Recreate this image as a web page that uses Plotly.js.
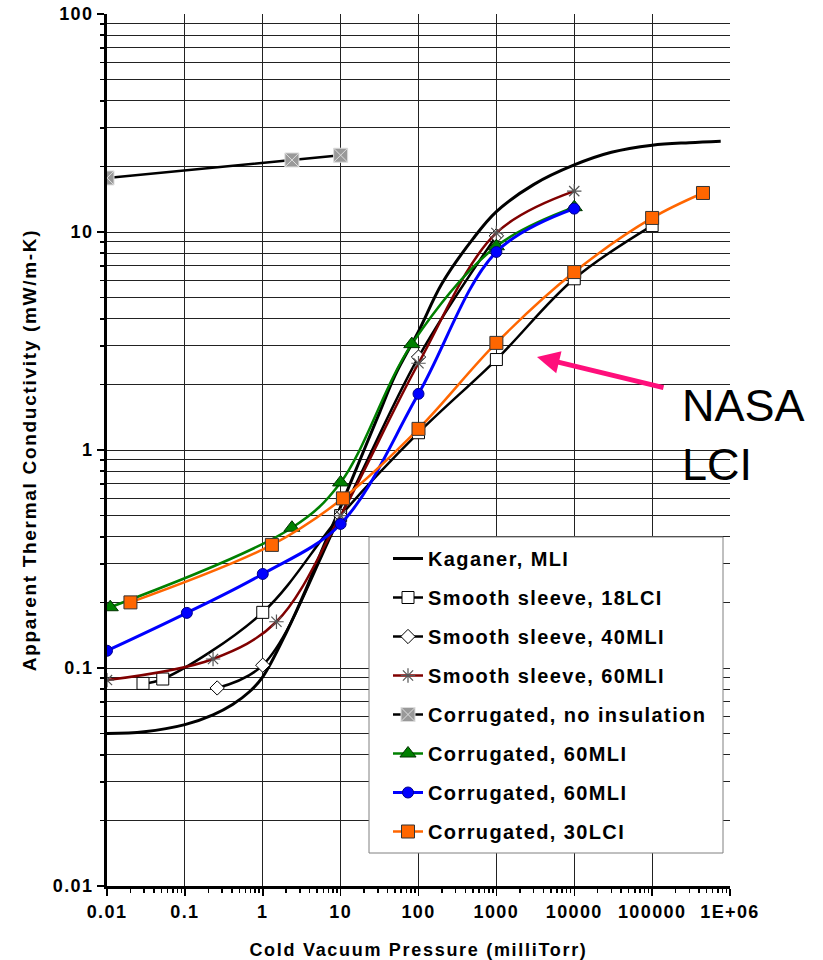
<!DOCTYPE html>
<html>
<head>
<meta charset="utf-8">
<script src="https://cdn.plot.ly/plotly-3.0.1.min.js"></script>
<style>
  html, body { margin: 0; padding: 0; background: #fff; }
  #chart { width: 823px; height: 960px; }
  .legendtext { letter-spacing: 1.4px; }
  .xtick text, .ytick text { letter-spacing: 1.4px; }
  .xtitle, .ytitle { letter-spacing: 1.7px; }
</style>
</head>
<body>
<div id="chart"></div>
<script>
// ---- Data ----
const seriesNames = [
  "Kaganer, MLI",
  "Smooth sleeve, 18LCI",
  "Smooth sleeve, 40MLI",
  "Smooth sleeve, 60MLI",
  "Corrugated, no insulation",
  "Corrugated, 60MLI",
  "Corrugated, 60MLI",
  "Corrugated, 30LCI"
];

const kaganerX = [0.01, 0.03, 0.1, 0.23, 0.41, 0.68, 1, 2, 3.6, 6, 10, 20, 32, 50, 100, 200, 500, 1000, 3000, 10000, 30000, 100000, 300000, 760000];
const kaganerY = [0.050, 0.051, 0.055, 0.061, 0.068, 0.078, 0.091, 0.145, 0.23, 0.36, 0.55, 1.0, 1.5, 2.2, 3.5, 5.8, 9.3, 12.4, 16.5, 20.3, 23.2, 25.0, 25.7, 26.1];

const smooth18X = [0.029, 0.052, 1, 10, 100, 1000, 10000, 100000];
const smooth18Y = [0.085, 0.089, 0.18, 0.50, 1.2, 2.6, 6.1, 10.7];

const smooth40X = [0.26, 1, 10, 100, 1000];
const smooth40Y = [0.081, 0.103, 0.50, 2.67, 9.6];

const smooth60X = [0.01, 0.23, 1.5, 10, 100, 1000, 10000];
const smooth60Y = [0.088, 0.11, 0.163, 0.50, 2.5, 9.9, 15.4];

const corrNoneX = [0.01, 2.37, 10];
const corrNoneY = [17.7, 21.4, 22.5];

const corr60gX = [0.011, 2.37, 10, 82, 1000, 10000];
const corr60gY = [0.19, 0.44, 0.71, 3.06, 8.6, 13.0];

const corr60bX = [0.01, 0.106, 1, 10, 100, 1000, 10000];
const corr60bY = [0.12, 0.179, 0.27, 0.458, 1.81, 8.1, 12.8];

const corr30X = [0.02, 1.31, 10.7, 100, 1000, 10000, 100000, 450000];
const corr30Y = [0.20, 0.367, 0.60, 1.25, 3.1, 6.55, 11.6, 15.1];

const xTickVals = [0.01, 0.1, 1, 10, 100, 1000, 10000, 100000, 1000000];
const xTickText = ["0.01", "0.1", "1", "10", "100", "1000", "10000", "100000", "1E+06"];
const yTickVals = [0.01, 0.1, 1, 10, 100];
const yTickText = ["0.01", "0.1", "1", "10", "100"];

// ---- Build ----
const FONT = "Liberation Sans, Arial, sans-serif";

function minorVals(lo, hi) {
  const v = [];
  for (let e = lo; e < hi; e++) {
    for (let k = 2; k <= 9; k++) v.push(k * Math.pow(10, e));
  }
  return v;
}

function tr(i, x, y, lineColor, lineWidth, marker) {
  const t = {
    x: x, y: y, name: seriesNames[i], legendgroup: "g" + i,
    type: "scatter",
    mode: marker ? "lines+markers" : "lines",
    line: { color: lineColor, width: lineWidth, shape: "spline", smoothing: 1 }
  };
  if (marker) t.marker = marker;
  return t;
}

const traces = [
  tr(0, kaganerX, kaganerY, "#000000", 3, null),
  tr(1, smooth18X, smooth18Y, "#000000", 2.5,
     { symbol: "square", size: 12, color: "#ffffff", line: { color: "#000000", width: 1 } }),
  tr(2, smooth40X, smooth40Y, "#000000", 2.5,
     { symbol: "diamond", size: 11, color: "#ffffff", line: { color: "#000000", width: 1 } }),
  tr(3, smooth60X, smooth60Y, "#800000", 2.5,
     { symbol: "asterisk-open", size: 12, color: "#555555", line: { color: "#555555", width: 1.2 } }),
  tr(4, corrNoneX, corrNoneY, "#000000", 2.5,
     { symbol: "square-x", size: 14, color: "#999999", line: { color: "#dddddd", width: 1 } }),
  tr(5, corr60gX, corr60gY, "#008000", 2.5,
     { symbol: "triangle-up", size: 14, color: "#008000", line: { color: "#003300", width: 1 } }),
  tr(6, corr60bX, corr60bY, "#0000ff", 3,
     { symbol: "circle", size: 11, color: "#0000ff", line: { color: "#00008b", width: 1 } }),
  tr(7, corr30X, corr30Y, "#ff6600", 2.5,
     { symbol: "square", size: 13, color: "#ff6600", line: { color: "#333333", width: 1 } })
];

const L = 107, R = 93, T = 14, B = 74, W = 823, H = 960;
const pw = W - L - R, ph = H - T - B;
function px2paperX(p) { return (p - L) / pw; }
function px2paperY(p) { return (H - B - p) / ph; }

const layout = {
  width: W, height: H,
  margin: { l: L, r: R, t: T, b: B, pad: 0 },
  paper_bgcolor: "#ffffff",
  plot_bgcolor: "#ffffff",
  font: { family: FONT, color: "#000000" },
  showlegend: true,
  xaxis: {
    type: "log", range: [-2, 6],
    tickmode: "array", tickvals: xTickVals, ticktext: xTickText,
    ticks: "outside", ticklen: 7, tickwidth: 1.5, tickcolor: "#000",
    tickfont: { family: FONT, size: 18, weight: 700, color: "#000" },
    showline: true, linewidth: 3, linecolor: "#000",
    showgrid: true, gridcolor: "#222", gridwidth: 1,
    zeroline: false,
    minor: { tickmode: "array", tickvals: minorVals(-2, 6), ticks: "outside", ticklen: 4, tickwidth: 1.5, tickcolor: "#000", showgrid: false },
    title: { text: "Cold Vacuum Pressure (milliTorr)", standoff: 24,
             font: { family: FONT, size: 18, weight: 700, color: "#000" } },
    automargin: false
  },
  yaxis: {
    type: "log", range: [-2, 2],
    tickmode: "array", tickvals: yTickVals, ticktext: yTickText,
    ticks: "outside", ticklen: 7, tickwidth: 1.5, tickcolor: "#000",
    tickfont: { family: FONT, size: 18, weight: 700, color: "#000" },
    showline: true, linewidth: 3, linecolor: "#000",
    showgrid: true, gridcolor: "#222", gridwidth: 1,
    zeroline: false,
    minor: { tickmode: "array", tickvals: minorVals(-2, 2), ticks: "outside", ticklen: 4, tickwidth: 1.5, tickcolor: "#000",
             showgrid: true, gridcolor: "#222", gridwidth: 1 },
    title: { text: "Apparent Thermal Conductivity (mW/m-K)", standoff: 12,
             font: { family: FONT, size: 19, weight: 700, color: "#000" } },
    automargin: false
  },
  legend: {
    x: px2paperX(388), y: px2paperY(539), xanchor: "left", yanchor: "top",
    bgcolor: "rgba(0,0,0,0)", borderwidth: 0,
    font: { family: FONT, size: 20, weight: 700, color: "#000" },
    tracegroupgap: 10, traceorder: "grouped"
  },
  shapes: [
    { type: "rect", xref: "paper", yref: "paper", layer: "above",
      x0: px2paperX(369), x1: px2paperX(723), y0: px2paperY(853), y1: px2paperY(537),
      fillcolor: "#ffffff", line: { color: "#808080", width: 1 } }
  ],
  annotations: [
    { xref: "paper", yref: "paper", x: px2paperX(537), y: px2paperY(357),
      text: "", showarrow: true, axref: "pixel", ayref: "pixel", ax: 128, ay: 31,
      arrowhead: 2, arrowwidth: 5, arrowsize: 0.9, arrowcolor: "#ff0f7b", standoff: 0 },
    { xref: "paper", yref: "paper", x: px2paperX(680), y: px2paperY(378),
      xanchor: "left", yanchor: "top", align: "left", showarrow: false,
      text: "NASA<br>LCI", font: { family: FONT, size: 45, color: "#000" } }
  ]
};

Plotly.newPlot("chart", traces, layout, { displayModeBar: false, staticPlot: true });
</script>
</body>
</html>
